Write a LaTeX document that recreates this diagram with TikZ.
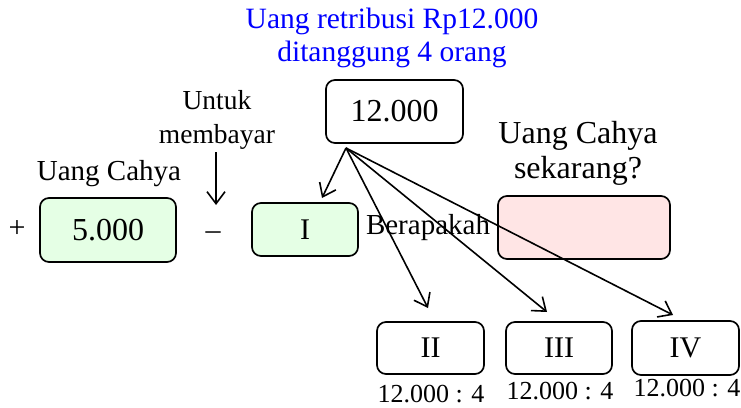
\documentclass[tikz,border=0pt]{standalone}
\usepackage{fontspec}
\setmainfont{Liberation Serif}
\usetikzlibrary{arrows.meta}
\begin{document}
\begin{tikzpicture}[x=1pt,y=-1pt,
  box/.style={draw,line width=1.7pt,rounded corners=9pt,inner sep=0pt},
  gbox/.style={box,fill=green!10},
  rbox/.style={box,fill=red!10},
  lbl/.style={inner sep=0pt,align=center},
  arr/.style={line width=1.6pt,-{Straight Barb[length=12pt,width=18pt,line width=1.6pt]}}]
\useasboundingbox (0,0) rectangle (741,407);
% boxes
\node[box,minimum width=137pt,minimum height=63pt] (top) at (394.5,111.5) {\fontsize{32}{34}\selectfont 12.000};
\node[gbox,minimum width=136pt,minimum height=64pt] (five) at (108,230) {\fontsize{32}{34}\selectfont 5.000};
\node[gbox,minimum width=106pt,minimum height=53pt] (one) at (305,229.5) {\fontsize{30}{32}\selectfont I};
\node[rbox,minimum width=172pt,minimum height=63pt] (res) at (584,227.5) {};
\node[box,minimum width=107pt,minimum height=52pt] (two) at (430.5,348) {\fontsize{30}{32}\selectfont II};
\node[box,minimum width=106pt,minimum height=52pt] (three) at (559,348) {\fontsize{30}{32}\selectfont III};
\node[box,minimum width=107pt,minimum height=54pt] (four) at (685.5,348) {\fontsize{30}{32}\selectfont IV};
% texts
\node[lbl,text=blue,font=\fontsize{29.5}{33}\selectfont] (blue) at (392,38) {Uang retribusi Rp12.000\\ditanggung 4 orang};
\node[lbl,font=\fontsize{27.5}{34}\selectfont] (untuk) at (217,120) {Untuk\\membayar};
\node[lbl,font=\fontsize{29}{32}\selectfont] (uc) at (109,174) {Uang Cahya};
\node[lbl,font=\fontsize{32}{35}\selectfont] (ucs) at (578,153) {Uang Cahya\\sekarang?};
\node[lbl,font=\fontsize{29}{32}\selectfont] (bera) at (428,228) {Berapakah};
\node[lbl,font=\fontsize{30}{32}\selectfont] (plus) at (17,229) {+};
\node[lbl,font=\fontsize{30}{32}\selectfont] (minus) at (213,236) {–};
\node[lbl,font=\fontsize{26}{30}\selectfont] (d2) at (431,394) {12.000 : 4};
\node[lbl,font=\fontsize{26}{30}\selectfont] (d3) at (560,391) {12.000 : 4};
\node[lbl,font=\fontsize{26}{30}\selectfont] (d4) at (687,388) {12.000 : 4};
% connector points
\coordinate (src) at (346,148);
\coordinate (t1) at (322,198);
\coordinate (t2) at (428,308);
\coordinate (t3) at (547,312);
\coordinate (t4) at (673,315);
\coordinate (ua) at (216,152);
\coordinate (ub) at (216,205);
% arrows
\draw[arr] (src) -- (t1);
\draw[arr] (src) -- (t2);
\draw[arr] (src) -- (t3);
\draw[arr] (src) -- (t4);
\draw[arr] (ua) -- (ub);
\end{tikzpicture}
\end{document}
